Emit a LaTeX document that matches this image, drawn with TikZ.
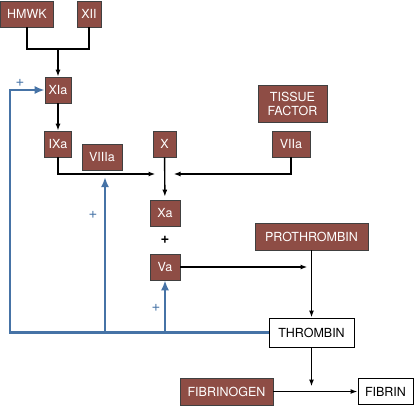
\documentclass[tikz,border=0pt]{standalone}
\usepackage{fontspec}
\setmainfont{TeX Gyre Heros}
\usetikzlibrary{arrows.meta}
\definecolor{factorbrown}{HTML}{8E4D45}
\definecolor{loopblue}{HTML}{4673A6}
\tikzset{
  factor/.style = {draw = black!75, fill = factorbrown, text = white, inner sep = 0pt, line width = 0.6pt},
  product/.style = {draw = black, fill = white, inner sep = 0pt, line width = 0.9pt},
  path/.style = {line width = 1.4pt, -{Latex[length=7pt,width=5pt]}},
  feedback/.style = {loopblue, line width = 2.6pt},
  plus/.style = {loopblue, font = \fontsize{15}{15}\selectfont}
}
\begin{document}
\begin{tikzpicture} [x = 1pt, y = -1pt, font = \fontsize{12.5}{14}\selectfont]
	\useasboundingbox (0,0) rectangle (414,406);
	\node [factor, minimum width = 53pt, minimum height = 26pt] (HMWK) at (27,14) {HMWK};
	\node [factor, minimum width = 24pt, minimum height = 26pt] (XII) at (89,14) {XII};
	\node [factor, minimum width = 26pt, minimum height = 26pt] (XIa) at (58,90) {XIa};
	\node [factor, minimum width = 27pt, minimum height = 26pt] (IXa) at (58,144) {IXa};
	\node [factor, minimum width = 40pt, minimum height = 26pt] (VIIIa) at (102,157) {VIIIa};
	\node [factor, minimum width = 23pt, minimum height = 26pt] (X) at (164.5,144) {X};
	\node [factor, minimum width = 69pt, minimum height = 37pt, align = center] (TF) at (292.5,103.5) {TISSUE\\FACTOR};
	\node [factor, minimum width = 38pt, minimum height = 26pt] (VIIa) at (291,144) {VIIa};
	\node [factor, minimum width = 30pt, minimum height = 26pt] (Xa) at (165,213) {Xa};
	\node [font = \bfseries\fontsize{15}{15}\selectfont] (with) at (165,240) {+};
	\node [factor, minimum width = 30pt, minimum height = 26pt] (Va) at (165,267) {Va};
	\node [factor, minimum width = 113pt, minimum height = 27pt] (PT) at (311.5,236.5) {PROTHROMBIN};
	\node [product, minimum width = 85pt, minimum height = 29pt] (THR) at (311.5,332.5) {THROMBIN};
	\node [factor, minimum width = 93pt, minimum height = 27pt] (FGN) at (226.5,391.5) {FIBRINOGEN};
	\node [product, minimum width = 55pt, minimum height = 26pt] (FIB) at (385.5,391.5) {FIBRIN};
	\coordinate (hj) at (58,49);
	\coordinate (cj) at (164.5,174);
	\coordinate (fbtop) at (10,90);
	\coordinate (fb8) at (105,333);
	\coordinate (fb8tip) at (105,177);
	\draw [line width = 1.4pt] (HMWK.south) |- (hj) -| (XII.south);
	\draw [path] (hj) -- (XIa.north);
	\draw [path] (XIa) -- (IXa);
	\draw [path, shorten >= 9pt] (IXa.south) |- (cj);
	\draw [path, shorten >= 9pt] (VIIa.south) |- (cj);
	\draw [path, shorten >= 3pt] (X) -- (Xa);
	\draw [path, shorten >= 4pt] (Va.east) -- (PT.south |- Va.east);
	\draw [path] (PT) -- (THR);
	\draw [path, shorten >= 5pt] (THR) -- (THR.south |- FGN.east);
	\draw [path] (FGN) -- (FIB);
	\draw [feedback, -{Latex[length=10pt,width=8pt]}] (THR.west) -| (fbtop) -- (XIa.west);
	\draw [feedback, -{Latex[length=10pt,width=8pt]}] (fb8) -- (fb8tip);
	\draw [feedback, -{Latex[length=10pt,width=8pt]}] (Va.south |- THR.west) -- (Va.south);
	\node [plus] (p1) at (20,83) {+};
	\node [plus] (p2) at (93,215) {+};
	\node [plus] (p3) at (156,308) {+};
\end{tikzpicture}
\end{document}
